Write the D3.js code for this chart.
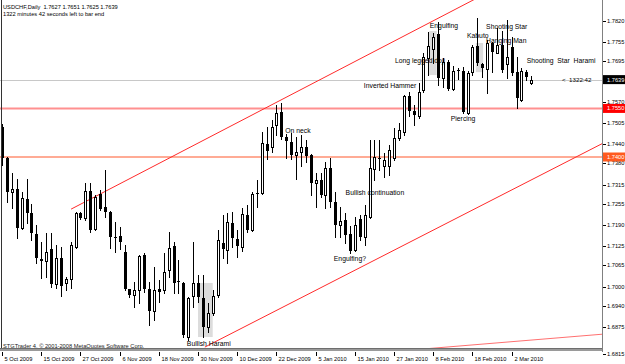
<!DOCTYPE html>
<html>
<head>
<meta charset="utf-8">
<script src="https://cdn.jsdelivr.net/npm/d3@7"></script>
<style>
body { margin: 0; background: #fff; }
svg { display: block; }
text { font-family: "Liberation Sans", Arial, sans-serif; }
</style>
</head>
<body>
<script>
// USDCHF daily bars, 5 Oct 2009 .. 8 Mar 2010
const opens = [1.7493,1.7397,1.7292,1.7301,1.7181,1.7270,1.7227,1.7162,1.7085,1.7079,
  1.7116,1.7008,1.7088,1.7011,1.7023,1.7122,1.7227,1.7212,1.7295,1.7178,
  1.7286,1.7246,1.7230,1.7153,1.7156,1.7107,1.6992,1.6974,1.6989,1.7097,
  1.6992,1.6924,1.6992,1.6989,1.7051,1.7125,1.7017,1.7011,1.6844,1.6971,
  1.7011,1.6965,1.6875,1.6918,1.6974,1.7134,1.7113,1.7196,1.7147,1.7122,
  1.7221,1.7175,1.7289,1.7289,1.7440,1.7431,1.7499,1.7539,1.7462,1.7446,
  1.7406,1.7415,1.7431,1.7406,1.7320,1.7329,1.7283,1.7366,1.7261,1.7190,
  1.7205,1.7162,1.7113,1.7209,1.7153,1.7215,1.7363,1.7397,1.7372,1.7372,
  1.7397,1.7459,1.7477,1.7588,1.7542,1.7527,1.7607,1.7706,1.7734,1.7780,
  1.7644,1.7693,1.7610,1.7669,1.7666,1.7536,1.7662,1.7743,1.7687,1.7672,
  1.7752,1.7721,1.7746,1.7687,1.7740,1.7662,1.7576,1.7662,1.7627];
const highs = [1.7502,1.7400,1.7351,1.7332,1.7292,1.7332,1.7255,1.7190,1.7138,1.7165,
  1.7165,1.7128,1.7122,1.7029,1.7138,1.7230,1.7230,1.7320,1.7320,1.7283,
  1.7298,1.7360,1.7233,1.7199,1.7184,1.7128,1.6992,1.7014,1.7097,1.7104,
  1.7014,1.7060,1.7020,1.7104,1.7168,1.7138,1.7082,1.7014,1.6968,1.7138,
  1.7036,1.7036,1.6949,1.6989,1.7175,1.7221,1.7227,1.7230,1.7175,1.7242,
  1.7252,1.7292,1.7329,1.7477,1.7493,1.7514,1.7561,1.7567,1.7471,1.7474,
  1.7462,1.7468,1.7452,1.7409,1.7351,1.7351,1.7385,1.7397,1.7292,1.7246,
  1.7227,1.7187,1.7215,1.7221,1.7252,1.7452,1.7452,1.7452,1.7412,1.7437,
  1.7490,1.7505,1.7591,1.7601,1.7561,1.7629,1.7721,1.7786,1.7783,1.7817,
  1.7706,1.7700,1.7681,1.7675,1.7678,1.7666,1.7746,1.7829,1.7690,1.7761,
  1.7755,1.7798,1.7789,1.7823,1.7771,1.7709,1.7675,1.7669,1.7651];
const lows = [1.7375,1.7261,1.7242,1.7150,1.7178,1.7196,1.7144,1.7073,1.7026,1.7029,
  1.6999,1.6995,1.6971,1.6989,1.6995,1.7119,1.7209,1.7205,1.7168,1.7175,
  1.7236,1.7215,1.7119,1.7107,1.7116,1.6989,1.6968,1.6937,1.6949,1.6983,
  1.6881,1.6897,1.6952,1.6980,1.7029,1.6980,1.6980,1.6844,1.6835,1.6937,
  1.6952,1.6844,1.6860,1.6912,1.6968,1.7088,1.7073,1.7122,1.7091,1.7110,
  1.7168,1.7171,1.7246,1.7286,1.7394,1.7415,1.7468,1.7456,1.7397,1.7394,
  1.7332,1.7372,1.7385,1.7283,1.7246,1.7276,1.7242,1.7246,1.7153,1.7153,
  1.7134,1.7104,1.7110,1.7144,1.7128,1.7212,1.7329,1.7360,1.7338,1.7344,
  1.7391,1.7452,1.7468,1.7527,1.7499,1.7520,1.7601,1.7653,1.7690,1.7622,
  1.7616,1.7607,1.7607,1.7640,1.7536,1.7533,1.7653,1.7684,1.7647,1.7598,
  1.7662,1.7721,1.7662,1.7644,1.7653,1.7551,1.7573,1.7638,1.7625];
const closes = [1.7397,1.7292,1.7301,1.7181,1.7273,1.7227,1.7165,1.7088,1.7079,1.7107,
  1.7008,1.7088,1.7002,1.7023,1.7128,1.7227,1.7212,1.7295,1.7175,1.7276,
  1.7239,1.7230,1.7153,1.7150,1.7138,1.6992,1.6974,1.6989,1.7094,1.6992,
  1.6924,1.6989,1.6983,1.7045,1.7119,1.7011,1.7014,1.6850,1.6965,1.7011,
  1.6968,1.6875,1.6918,1.6971,1.7144,1.7116,1.7199,1.7150,1.7125,1.7224,
  1.7175,1.7286,1.7286,1.7443,1.7419,1.7493,1.7536,1.7462,1.7449,1.7406,
  1.7415,1.7431,1.7403,1.7320,1.7329,1.7283,1.7366,1.7261,1.7190,1.7202,
  1.7159,1.7110,1.7190,1.7153,1.7221,1.7366,1.7400,1.7394,1.7391,1.7422,
  1.7459,1.7483,1.7588,1.7542,1.7530,1.7601,1.7709,1.7743,1.7771,1.7644,
  1.7693,1.7610,1.7666,1.7666,1.7539,1.7659,1.7740,1.7690,1.7675,1.7752,
  1.7724,1.7746,1.7669,1.7709,1.7659,1.7582,1.7666,1.7647,1.7639];

const dateLabels = ["5 Oct 2009","15 Oct 2009","27 Oct 2009","6 Nov 2009","18 Nov 2009",
  "30 Nov 2009","10 Dec 2009","22 Dec 2009","5 Jan 2010","15 Jan 2010","27 Jan 2010",
  "8 Feb 2010","18 Feb 2010","2 Mar 2010"];
const dateBars = [0,8,16,24,32,40,48,56,64,72,80,88,96,104];
const priceTicks = ["1.7820","1.7755","1.7695","1.7630","1.7570","1.7505","1.7440","1.7380",
  "1.7315","1.7255","1.7190","1.7125","1.7065","1.7000","1.6940","1.6875","1.6815"];

// horizontal levels and trend lines (bar index / price)
const levels = [1.7550, 1.7400];
const trendStart = [[14.1, 1.7239], [41.4, 1.6813], [85.9, 1.6807]];
const trendEnd = [[100, 1.7915], [122.7, 1.7443], [122.7, 1.6853]];

// shaded pattern boxes: [bar from, bar to], [price top, price bottom]
const boxBars = [[40.0, 43.0], [87.2, 88.7], [96.7, 98.2]];
const boxPrices = [[1.7011, 1.6844], [1.7789, 1.7653], [1.7752, 1.7662]];

// pattern notes
const noteText = ["On neck","Inverted Hammer","Long legged doji","Engulfing","Kabuto",
  "Shooting Star","Hanging Man","Shooting  Star  Harami","Piercing","Bullish continuation",
  "Engulfing?","Bullish Harami"];
const noteBar = [60.4, 79.2, 85.3, 90.2, 97.1, 103.0, 102.9, 114.1, 94.1, 76.1, 71.0, 42.2];
const notePrice = [1.7474, 1.7613, 1.7690, 1.7798, 1.7767, 1.7795, 1.7752, 1.7690, 1.7511, 1.7283, 1.7079, 1.6816];

const W = 625, H = 364;
const plotR = 602, plotB = 348;

const svg = d3.select("body").append("svg")
  .attr("width", W).attr("height", H);

svg.append("rect").attr("width", W).attr("height", H).attr("fill", "#fff");

const x = d3.scaleLinear().domain([0, 104]).range([2, 511.6]);
const y = d3.scaleLinear().domain([1.6875, 1.7820]).range([327, 21]);

svg.append("clipPath").attr("id", "plot")
  .append("rect").attr("x", 0).attr("y", 0).attr("width", plotR).attr("height", plotB);

const g = svg.append("g").attr("clip-path", "url(#plot)");

// gray boxes
g.selectAll(".box").data(boxBars).enter().append("rect")
  .attr("x", d => x(d[0]))
  .attr("width", d => x(d[1]) - x(d[0]))
  .attr("y", (d, i) => y(boxPrices[i][0]))
  .attr("height", (d, i) => y(boxPrices[i][1]) - y(boxPrices[i][0]))
  .attr("fill", "#dcdcdc");

// level lines
const levelColors = ["#ff9090", "#ffab95"];
g.selectAll(".lvl").data(levels).enter().append("line")
  .attr("x1", 0).attr("x2", plotR)
  .attr("y1", d => y(d)).attr("y2", d => y(d))
  .attr("stroke", (d, i) => levelColors[i]).attr("stroke-width", 2);

// current price line
const last = closes[closes.length - 1];
g.append("line")
  .attr("x1", 0).attr("x2", plotR)
  .attr("y1", Math.round(y(last)) + 0.5).attr("y2", Math.round(y(last)) + 0.5)
  .attr("stroke", "#c8c8c8").attr("stroke-width", 1);

// trend lines
g.selectAll(".trend").data(trendStart).enter().append("line")
  .attr("x1", d => x(d[0])).attr("y1", d => y(d[1]))
  .attr("x2", (d, i) => x(trendEnd[i][0])).attr("y2", (d, i) => y(trendEnd[i][1]))
  .attr("stroke", (d, i) => i === 2 ? "#ff7070" : "#ff2a2a")
  .attr("stroke-width", 1);

// candles
const bars = d3.range(opens.length);
const cg = g.append("g").attr("shape-rendering", "crispEdges");

cg.selectAll(".wick").data(bars).enter().append("line")
  .attr("x1", i => Math.round(x(i)) + 0.5).attr("x2", i => Math.round(x(i)) + 0.5)
  .attr("y1", i => Math.round(y(highs[i])))
  .attr("y2", i => Math.round(y(lows[i])) + 1)
  .attr("stroke", "#000");

cg.selectAll(".body").data(bars).enter().append("rect")
  .attr("x", i => closes[i] >= opens[i] ? Math.round(x(i)) - 0.5 : Math.round(x(i)) - 1)
  .attr("width", i => closes[i] >= opens[i] ? 2 : 3)
  .attr("y", i => {
    const t = Math.round(y(Math.max(opens[i], closes[i])));
    return closes[i] >= opens[i] ? t + 0.5 : t;
  })
  .attr("height", i => {
    const h = Math.round(y(Math.min(opens[i], closes[i]))) - Math.round(y(Math.max(opens[i], closes[i])));
    return Math.max(h, 1);
  })
  .attr("fill", i => closes[i] >= opens[i] ? "#fff" : "#000")
  .attr("stroke", i => closes[i] >= opens[i] ? "#000" : "none")
  .attr("stroke-width", 1);

// notes
g.selectAll(".note").data(noteText).enter().append("text")
  .attr("x", (d, i) => x(noteBar[i]))
  .attr("y", (d, i) => y(notePrice[i]))
  .attr("text-anchor", "middle")
  .style("white-space", "pre")
  .attr("font-size", "6.8px")
  .attr("fill", "#000")
  .text(d => d);

// header
svg.append("text").attr("x", 3).attr("y", 8.5).attr("font-size", "5.7px")
  .style("white-space", "pre")
  .text("USDCHF,Daily  " + [opens, highs, lows, closes].map(a => a[a.length - 1].toFixed(4)).join(" "));
svg.append("text").attr("x", 3).attr("y", 15.5).attr("font-size", "5.7px")
  .text("1322 minutes 42 seconds left to bar end");

svg.append("text").attr("x", 3).attr("y", 347.5).attr("font-size", "5.7px").attr("fill", "#222")
  .text("STGTrader 4, \u00a9 2001-2008 MetaQuotes Software Corp.");

// frame
svg.append("line").attr("x1", 1.5).attr("x2", 1.5).attr("y1", 0).attr("y2", plotB)
  .attr("stroke", "#333");
svg.append("rect").attr("x", 0).attr("y", plotB).attr("width", plotR).attr("height", 3)
  .attr("fill", "#9a9a9a");
svg.append("line").attr("x1", 0).attr("x2", plotR).attr("y1", plotB + 0.5).attr("y2", plotB + 0.5)
  .attr("stroke", "#6e6e6e");
svg.append("line").attr("x1", plotR + 0.5).attr("x2", plotR + 0.5).attr("y1", 0).attr("y2", 352)
  .attr("stroke", "#808080");

// price axis (the lowest label sits at the bottom edge, as in the terminal)
const markVals = [last, levels[0], levels[1]];
const tickY = (d, i) => i === priceTicks.length - 1 ? 354 : y(+d);
const shown = priceTicks.filter(d => Math.abs(y(+d) - y(last)) > 4);
const pa = svg.append("g");
pa.selectAll("line").data(priceTicks).enter().append("line")
  .attr("x1", plotR + 1).attr("x2", plotR + 4)
  .attr("y1", (d, i) => Math.round(tickY(d, i)) + 0.5)
  .attr("y2", (d, i) => Math.round(tickY(d, i)) + 0.5)
  .attr("stroke", "#000");
pa.selectAll("text").data(shown).enter().append("text")
  .attr("x", plotR + 5)
  .attr("y", d => tickY(d, priceTicks.indexOf(d)))
  .attr("dy", "0.35em")
  .attr("font-size", "5.7px")
  .text(d => d);

// price marks on axis
const markFill = ["#000", "#ff0000", "#ff5a1e"];
const mk = svg.append("g");
mk.selectAll("rect").data(markVals).enter().append("rect")
  .attr("x", plotR + 1).attr("width", W - plotR - 1)
  .attr("y", d => y(d) - 4.5).attr("height", 9)
  .attr("fill", (d, i) => markFill[i]);
mk.selectAll("text").data(markVals).enter().append("text")
  .attr("x", plotR + 5).attr("y", d => y(d)).attr("dy", "0.35em")
  .attr("font-size", "5.7px").attr("fill", "#fff")
  .text(d => d.toFixed(4));

// time left label
svg.append("text").attr("x", 562).attr("y", y(last)).attr("dy", "0.35em")
  .attr("font-family", "Liberation Mono, monospace")
  .attr("font-size", "6.2px")
  .style("white-space", "pre")
  .text("<  1322:42");

// date axis
const da = svg.append("g");
da.selectAll("line").data(dateBars).enter().append("line")
  .attr("x1", d => Math.round(x(d)) + 0.5).attr("x2", d => Math.round(x(d)) + 0.5)
  .attr("y1", 352).attr("y2", 356)
  .attr("stroke", "#000");
da.selectAll("text").data(dateLabels).enter().append("text")
  .attr("x", (d, i) => Math.round(x(dateBars[i])) + 2.5)
  .attr("y", 361)
  .attr("font-size", "5.7px")
  .text(d => d);
</script>
</body>
</html>
